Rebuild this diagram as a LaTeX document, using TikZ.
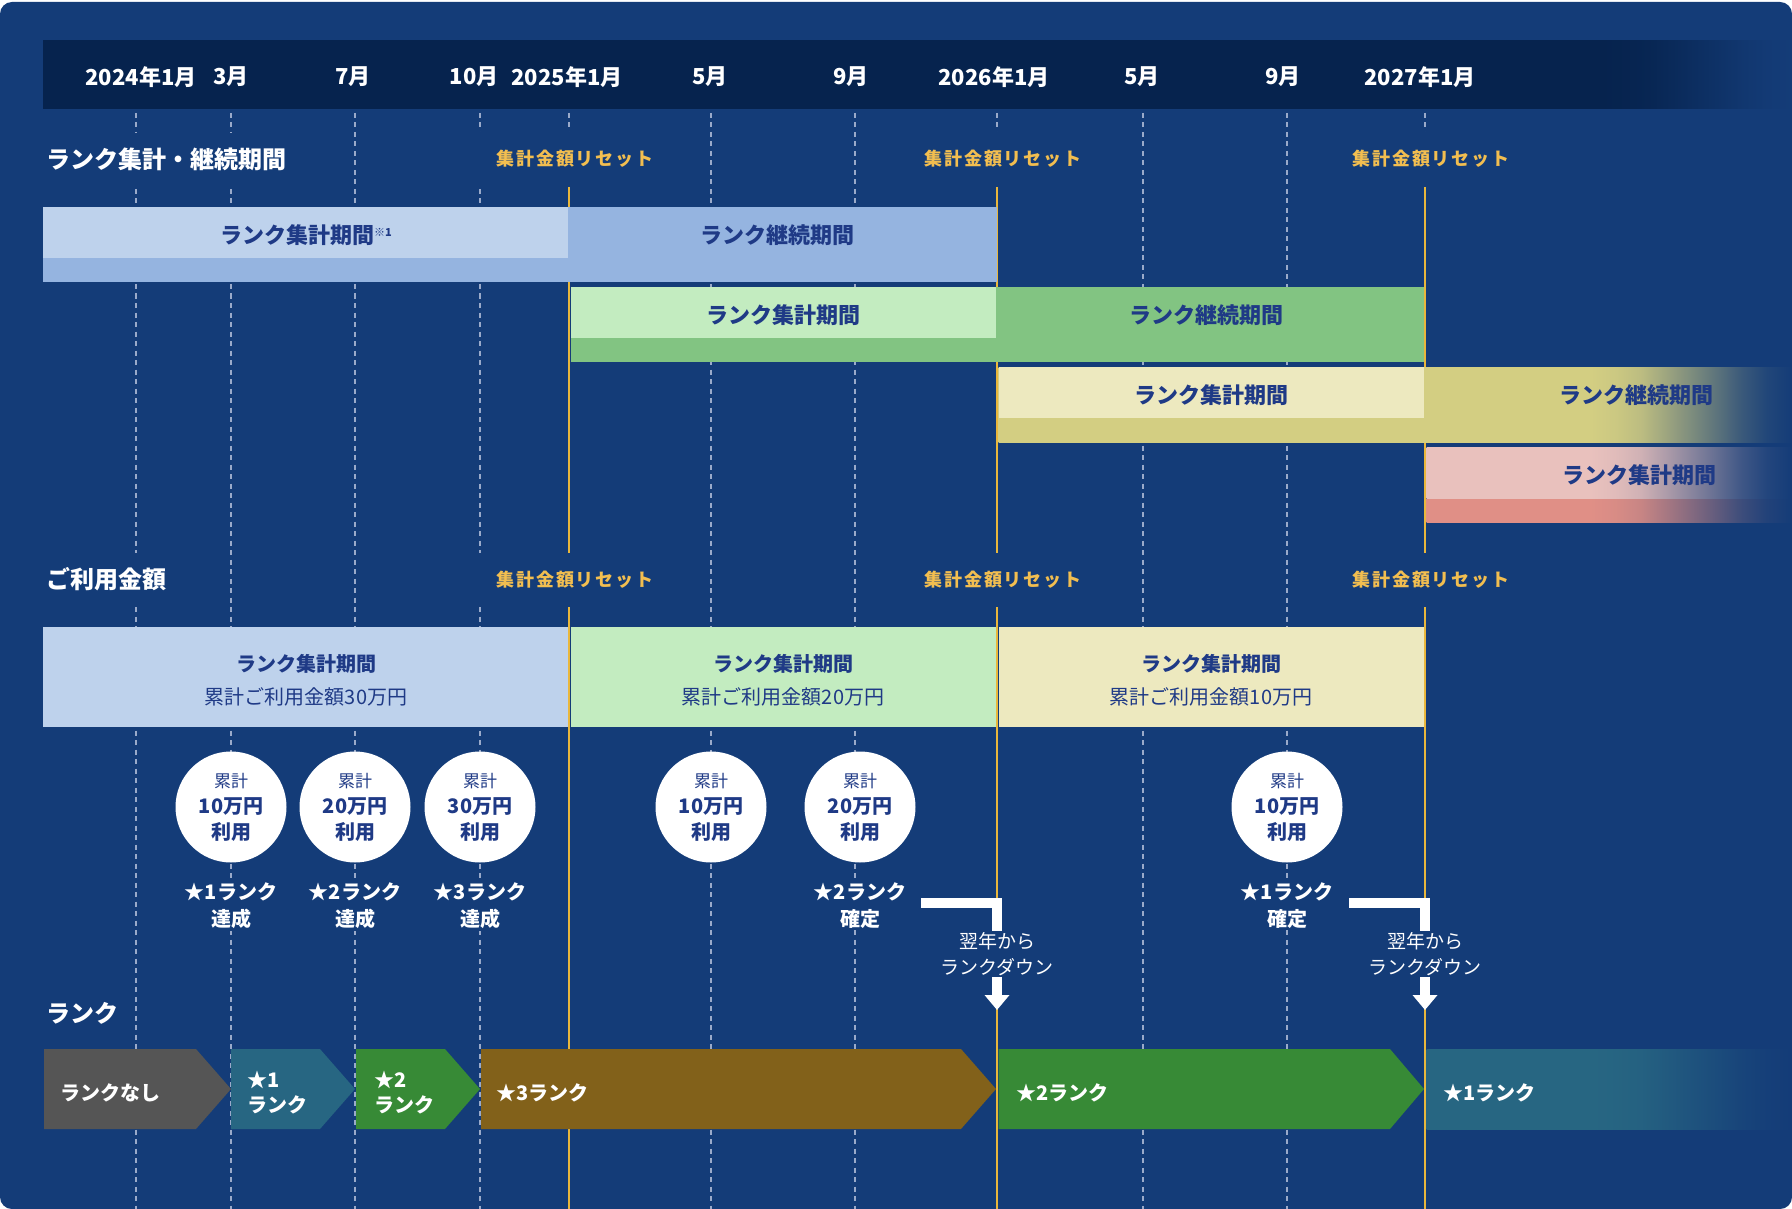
\documentclass[tikz,border=0pt]{standalone}
\usepackage{fontspec}
\setmainfont{Noto Sans CJK JP}
\usetikzlibrary{arrows.meta}
\definecolor{panel}{HTML}{143C78}
\definecolor{hdr}{HTML}{06234E}
\definecolor{dashc}{HTML}{9AAACA}
\definecolor{gold}{HTML}{E9B73C}
\definecolor{resetc}{HTML}{F2BE50}
\definecolor{navytxt}{HTML}{1F3A86}
\definecolor{blueL}{HTML}{BED2EC}
\definecolor{blueM}{HTML}{95B4E0}
\definecolor{greenL}{HTML}{C3ECC0}
\definecolor{greenM}{HTML}{82C482}
\definecolor{yelL}{HTML}{EDE9BF}
\definecolor{yelM}{HTML}{D3CE82}
\definecolor{pinkL}{HTML}{E9C1BD}
\definecolor{pinkM}{HTML}{E08F86}
\definecolor{rkGray}{HTML}{555555}
\definecolor{rkTeal}{HTML}{276682}
\definecolor{rkGreen}{HTML}{378A36}
\definecolor{rkBrown}{HTML}{82611A}
% #1 shading name, #2 colour, #3 position (bp, 25..75) where the fade starts
\newcommand{\mkfade}[3]{%
  \pgfmathsetmacro\fdA{#3}%
  \pgfmathsetmacro\fdS{(75-#3)/8}%
  \pgfmathsetmacro\fdB{\fdA+\fdS}%
  \pgfmathsetmacro\fdC{\fdA+2*\fdS}%
  \pgfmathsetmacro\fdD{\fdA+3*\fdS}%
  \pgfmathsetmacro\fdE{\fdA+4*\fdS}%
  \pgfmathsetmacro\fdF{\fdA+5*\fdS}%
  \pgfmathsetmacro\fdG{\fdA+6*\fdS}%
  \pgfmathsetmacro\fdH{\fdA+7*\fdS}%
  \edef\fdTmp{\noexpand\pgfdeclarehorizontalshading{#1}{100bp}{color(0bp)=(#2); color(\fdA bp)=(#2); color(\fdB bp)=(#2!96!panel); color(\fdC bp)=(#2!88!panel); color(\fdD bp)=(#2!72!panel); color(\fdE bp)=(#2!55!panel); color(\fdF bp)=(#2!38!panel); color(\fdG bp)=(#2!20!panel); color(\fdH bp)=(#2!7!panel); color(75bp)=(panel); color(100bp)=(panel)}}%
  \fdTmp}
\mkfade{fadehdr}{hdr}{69.5}
\mkfade{fadeyel}{yelM}{62.3}
\mkfade{fadepinkL}{pinkL}{47.4}
\mkfade{fadepinkM}{pinkM}{47.4}
\mkfade{fadeteal}{rkTeal}{47.4}
\begin{document}
\begin{tikzpicture}[x=1pt,y=-1pt,
  monthlbl/.style={text=white, font=\bfseries\fontsize{22}{24}\selectfont, inner sep=0},
  sectlbl/.style={anchor=west, text=white, font=\bfseries\fontsize{24}{26}\selectfont, fill=panel, inner xsep=0, minimum height=52},
  resetlbl/.style={text=resetc, font=\bfseries\fontsize{18}{22}\selectfont\addfontfeature{LetterSpace=10}, fill=panel, inner xsep=20, minimum height=54},
  dashline/.style={dashc, line width=1.3, dash pattern=on 5 off 4.5},
  goldline/.style={gold, line width=2},
  barlbl/.style={text=navytxt, font=\bfseries\fontsize{22}{24}\selectfont, inner sep=0},
  sumlbl/.style={text=navytxt, font=\fontsize{20}{33}\selectfont, align=center, inner sep=0},
  usecircle/.style={circle, fill=white, minimum size=111, inner sep=0, align=center, text=navytxt, font=\bfseries\fontsize{20}{26}\selectfont},
  achv/.style={text=white, fill=panel, align=center, inner sep=2, font=\bfseries\fontsize{20}{27}\selectfont},
  downlbl/.style={text=white, fill=panel, align=center, inner sep=1, font=\fontsize{19}{26}\selectfont},
  bracket/.style={white, line width=10, line join=miter},
  downarrow/.style={white, line width=10, -{Triangle[width=24pt,length=15pt]}},
  ranklbl/.style={anchor=west, text=white, align=left, inner sep=0, font=\bfseries\fontsize{20}{25}\selectfont}
]
\useasboundingbox (0,0) rectangle (1792,1209);
\fill[white] (0,0) rectangle (1792,1209);
\fill[panel, rounded corners=12] (0,2) rectangle (1792,1209);
% header band
\shade[shading=fadehdr] (43,41) rectangle (1792,109);
\foreach \x/\t [count=\i] in {141/2024年1月, 231/3月, 353/7月, 474/10月, 567/2025年1月, 710/5月, 851/9月, 994/2026年1月, 1142/5月, 1283/9月, 1420/2027年1月}
  \node[monthlbl] (m\i) at (\x,77) {\t};
% grid lines
\foreach \x in {136,231,355,480,569,711,855,997,1143,1287,1425}
  \draw[dashline] (\x,113) -- (\x,1209);
\foreach \x in {569,997,1425}
  \draw[goldline] (\x,187) -- (\x,1209);
% section labels
\node[sectlbl] (s1) at (46,159) {ランク集計・継続期間};
\node[sectlbl] (s2) at (46,579) {ご利用金額};
\node[sectlbl] (s3) at (46,1013) {ランク};
\foreach \x [count=\i] in {575,1003,1431} {
  \node[resetlbl] (ra\i) at (\x,159) {集計金額リセット};
  \node[resetlbl] (rb\i) at (\x,580) {集計金額リセット};
}
% row 1
\fill[blueM] (43,207) rectangle (997,282);
\fill[blueL] (43,207) rectangle (568,258);
\node[barlbl] (b1a) at (306,235) {ランク集計期間{\fontsize{11}{11}\selectfont\raisebox{7pt}{※1}}};
\node[barlbl] (b1b) at (777,235) {ランク継続期間};
% row 2
\fill[greenM] (570.5,287) rectangle (1424,362);
\fill[greenL] (570.5,287) rectangle (996,338);
\node[barlbl] (b2a) at (783,315) {ランク集計期間};
\node[barlbl] (b2b) at (1206,315) {ランク継続期間};
% row 3
\shade[shading=fadeyel] (998.5,367) rectangle (1792,442);
\fill[yelL] (998.5,367) rectangle (1424,418);
\node[barlbl] (b3a) at (1211,395) {ランク集計期間};
\node[barlbl] (b3b) at (1636,395) {ランク継続期間};
% row 4
\shade[shading=fadepinkM] (1426.5,498) rectangle (1792,522);
\shade[shading=fadepinkL] (1426.5,447) rectangle (1792,498);
\node[barlbl] (b4a) at (1639,475) {ランク集計期間};
% usage bars
\fill[blueL] (43,627) rectangle (568,727);
\fill[greenL] (570.5,627) rectangle (996,727);
\fill[yelL] (998.5,627) rectangle (1424,727);
\node[sumlbl] (u1) at (306,680) {{\bfseries ランク集計期間}\\累計ご利用金額30万円};
\node[sumlbl] (u2) at (783,680) {{\bfseries ランク集計期間}\\累計ご利用金額20万円};
\node[sumlbl] (u3) at (1211,680) {{\bfseries ランク集計期間}\\累計ご利用金額10万円};
% circles
\foreach \x/\v [count=\i] in {231/10, 355/20, 480/30, 711/10, 860/20, 1287/10}
  \node[usecircle] (c\i) at (\x,807) {{\mdseries\fontsize{17}{26}\selectfont 累計}\\\v 万円\\利用};
\node[achv] (a1) at (231,905.5) {★1ランク\\達成};
\node[achv] (a2) at (355,905.5) {★2ランク\\達成};
\node[achv] (a3) at (480,905.5) {★3ランク\\達成};
\node[achv] (a4) at (860,905.5) {★2ランク\\確定};
\node[achv] (a5) at (1287,905.5) {★1ランク\\確定};
% rank down notes
\node[downlbl] (d1) at (997,954) {翌年から\\ランクダウン};
\node[downlbl] (d2) at (1425,954) {翌年から\\ランクダウン};
\coordinate (k1) at (921,903);
\coordinate (k2) at (1349,903);
\draw[bracket] (k1) -| (d1.north);
\draw[bracket] (k2) -| (d2.north);
\coordinate (t1) at (997,1010);
\coordinate (t2) at (1425,1010);
\draw[downarrow] (d1.south) -- (t1);
\draw[downarrow] (d2.south) -- (t2);
% rank arrows
\fill[rkGray] (44,1049) -- (196,1049) -- (231,1089) -- (196,1129) -- (44,1129) -- cycle;
\fill[rkTeal] (231,1049) -- (320,1049) -- (355,1089) -- (320,1129) -- (231,1129) -- cycle;
\fill[rkGreen] (356,1049) -- (445,1049) -- (480,1089) -- (445,1129) -- (356,1129) -- cycle;
\fill[rkBrown] (481,1049) -- (961,1049) -- (996,1089) -- (961,1129) -- (481,1129) -- cycle;
\fill[rkGreen] (998.5,1049) -- (1390,1049) -- (1424,1089) -- (1390,1129) -- (998.5,1129) -- cycle;
\shade[shading=fadeteal] (1426.5,1049) rectangle (1792,1129);
\node[ranklbl] (r0) at (60,1093) {ランクなし};
\node[ranklbl] (r1) at (247,1093) {★1\\ランク};
\node[ranklbl] (r2) at (374,1093) {★2\\ランク};
\node[ranklbl] (r3) at (496,1093) {★3ランク};
\node[ranklbl] (r4) at (1016,1093) {★2ランク};
\node[ranklbl] (r5) at (1443,1093) {★1ランク};
\end{tikzpicture}
\end{document}
